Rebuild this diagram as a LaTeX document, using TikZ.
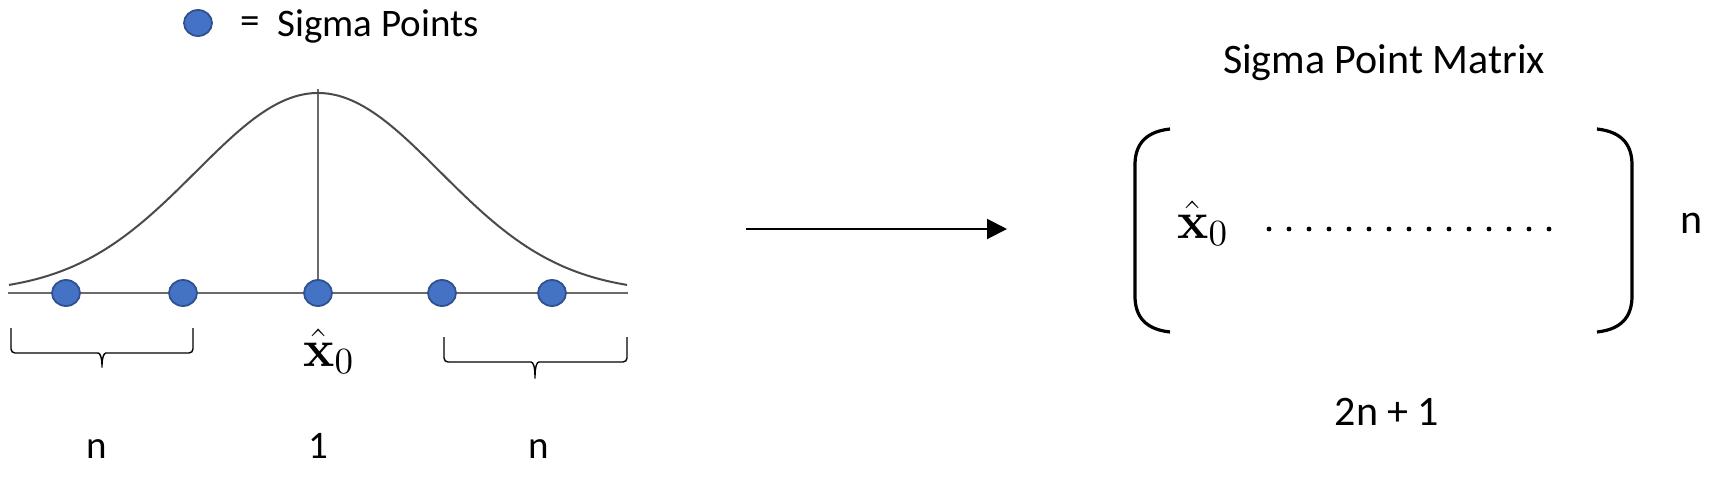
\RequirePackage{fix-cm}
\documentclass[tikz,border=0pt]{standalone}
\usepackage{graphicx}
\usepackage[no-math]{fontspec}
\setmainfont{Carlito}
\usetikzlibrary{arrows.meta,shapes.geometric}
\definecolor{sigmablue}{HTML}{4472C4}
\definecolor{sigmaedge}{HTML}{2F528F}
\definecolor{curvegray}{HTML}{4A4A4A}
\definecolor{axisgray}{HTML}{6A6A6A}
\newcommand{\xmeanlbl}{\scalebox{1.55}{$\hat{\mathbf{x}}_0$}}
\begin{document}
\begin{tikzpicture}[x=0.5pt,y=-0.5pt,
    sigma/.style={ellipse, draw=sigmaedge, fill=sigmablue, line width=0.9pt, minimum width=14pt, minimum height=13pt, inner sep=0pt},
    smalltxt/.style={inner sep=0pt, font=\fontsize{19.5}{23}\selectfont},
    bigtxt/.style={inner sep=0pt, font=\fontsize{21}{25}\selectfont},
    mathtxt/.style={inner sep=0pt, font=\fontsize{17}{20}\selectfont},
    brace/.style={line width=0.7pt, rounded corners=2pt},
    bracket/.style={line width=1.6pt}]
    \useasboundingbox (0,0) rectangle (1730,488);

    %Legend
    \node [sigma] (legdot) at (198,23) {};
    \node [smalltxt] (legeq) at (250,25) {=};
    \node [smalltxt, anchor=base west] (legtxt) at (277,36) {Sigma Points};

    %Gaussian
    \draw [axisgray, line width=0.7pt] (8,293) -- (628,293);
    \draw [axisgray, line width=0.6pt] (318,89) -- (318,293);
    \draw [curvegray, line width=1pt] plot [domain=9:627, samples=120, smooth]
        (\x, {293-200*exp(-0.5*((\x-318)/122)^2)});

    %Sigma points
    \node [sigma] (s1) at (66,293) {};
    \node [sigma] (s2) at (183,293) {};
    \node [sigma] (s0) at (318,293) {};
    \node [sigma] (s3) at (442,293) {};
    \node [sigma] (s4) at (552,293) {};

    %Braces
    \draw [brace] (11,328) -- (11,353) -- (94,353)
        .. controls (100,353) and (102,357) .. (102,370)
        .. controls (102,357) and (104,353) .. (110,353) -- (193,353) -- (193,328);
    \draw [brace] (444,337) -- (444,362) -- (527,362)
        .. controls (533,362) and (535,366) .. (535,381)
        .. controls (535,366) and (537,362) .. (543,362) -- (627,362) -- (627,337);

    \node [mathtxt, anchor=base west] (xmean) at (303,366) {\xmeanlbl};
    \node [smalltxt, anchor=base] (nleft) at (97,458) {n};
    \node [smalltxt, anchor=base] (one) at (318,458) {1};
    \node [smalltxt, anchor=base] (nright) at (539,458) {n};

    %Arrow
    \coordinate (arrS) at (746,229);
    \coordinate (arrE) at (1007,229);
    \draw [-{Triangle[length=10pt,width=10pt]}, line width=1pt] (arrS) -- (arrE);

    %Matrix
    \node [bigtxt, anchor=base] (title) at (1384,73) {Sigma Point Matrix};
    \draw [bracket] (1170,129) .. controls (1142,132) and (1135,148) .. (1135,165)
        -- (1135,296) .. controls (1135,313) and (1142,329) .. (1170,332);
    \draw [bracket] (1597,129) .. controls (1625,132) and (1632,148) .. (1632,165)
        -- (1632,296) .. controls (1632,313) and (1625,329) .. (1597,332);
    \node [mathtxt, anchor=base west] (xrow) at (1177,238) {\xmeanlbl};
    \foreach \i in {0,...,14}
        \fill (1269+20*\i,229) circle (1.2pt);
    \node [bigtxt, anchor=base] (nrows) at (1692,233) {n};
    \node [bigtxt, anchor=base] (ncols) at (1387,425) {2n + 1};

\end{tikzpicture}
\end{document}
